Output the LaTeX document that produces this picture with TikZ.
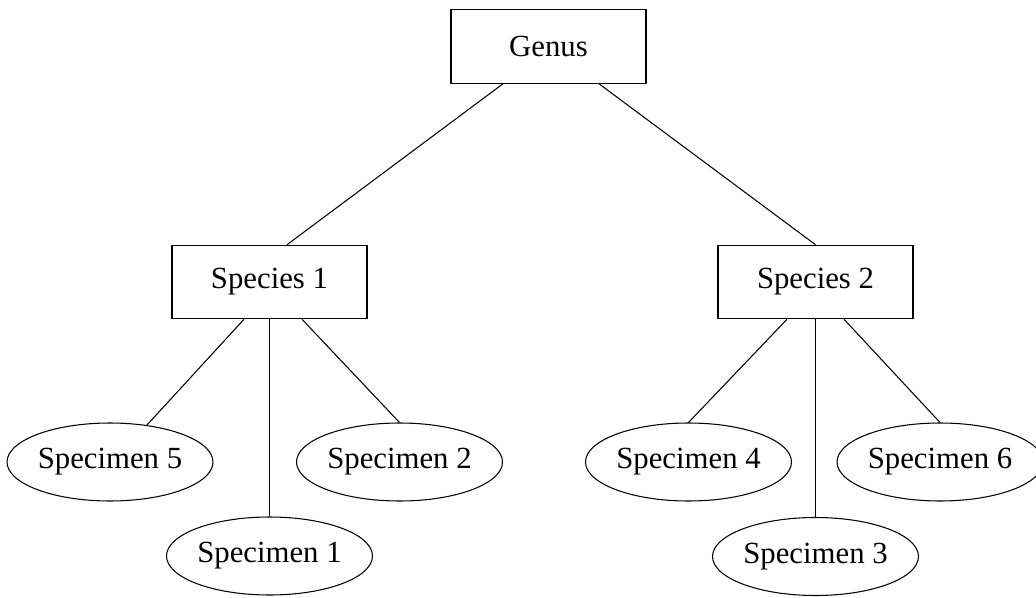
\documentclass[tikz,border=0pt]{standalone}
\usepackage{fontspec}
\setmainfont{Liberation Serif}
\usetikzlibrary{shapes.geometric}

\tikzset{
  taxbox/.style={draw, rectangle, minimum width=3.9cm, minimum height=1.47cm, inner sep=0pt},
  specimen/.style={draw, ellipse, minimum width=4.12cm, minimum height=1.56cm, inner sep=0pt},
}

\begin{document}
\begin{tikzpicture}[line width=0.6pt, font=\fontsize{17.5}{21}\selectfont]
  \useasboundingbox (0,0) rectangle (20.72,11.94);

  \node[taxbox] (genus) at (10.97, 11.01) {Genus};

  %------ species

  \node[taxbox] (sp1) at (5.39, 6.30) {Species 1};
  \node[taxbox] (sp2) at (16.31, 6.30) {Species 2};

  \draw ([xshift=-0.91cm]genus.south) -- ([xshift=0.35cm]sp1.north);
  \draw ([xshift=1.01cm]genus.south) -- (sp2.north);

  %------ specimens of species 1

  \node[specimen] (spec5) at (2.20, 2.70) {Specimen 5};
  \node[specimen] (spec2) at (7.99, 2.70) {Specimen 2};
  \node[specimen] (spec1) at (5.39, 0.82) {Specimen 1};

  \draw ([xshift=-0.51cm]sp1.south) -- (spec5.45);
  \draw (sp1.south) -- (spec1.north);
  \draw ([xshift=0.65cm]sp1.south) -- (spec2.north);

  %------ specimens of species 2

  \node[specimen] (spec4) at (13.77, 2.70) {Specimen 4};
  \node[specimen] (spec6) at (18.80, 2.70) {Specimen 6};
  \node[specimen] (spec3) at (16.31, 0.81) {Specimen 3};

  \draw ([xshift=-0.57cm]sp2.south) -- (spec4.north);
  \draw (sp2.south) -- (spec3.north);
  \draw ([xshift=0.57cm]sp2.south) -- (spec6.north);

\end{tikzpicture}
\end{document}
